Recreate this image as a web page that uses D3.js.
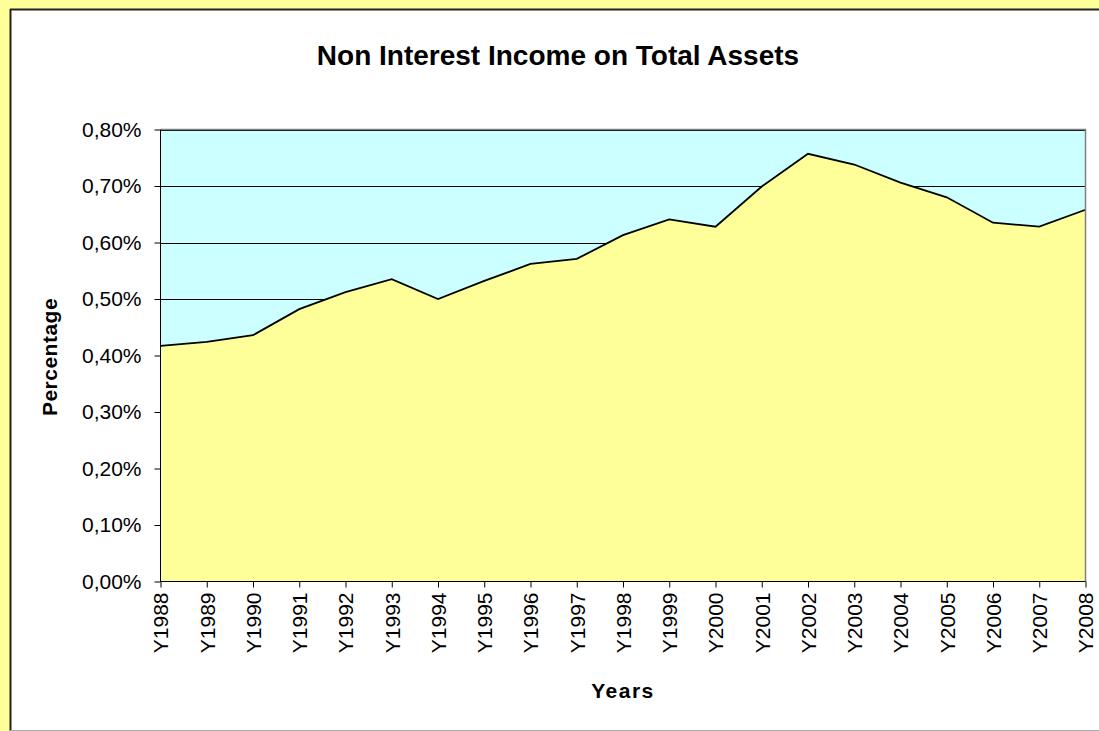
<!DOCTYPE html>
<html><head><meta charset="utf-8">
<script src="https://cdn.jsdelivr.net/npm/d3@7"></script>
<style>body{margin:0;background:#fff}svg{display:block}</style>
</head><body>
<svg id="c" width="1099" height="731"></svg>
<script>
const years = ["Y1988","Y1989","Y1990","Y1991","Y1992","Y1993","Y1994","Y1995","Y1996","Y1997","Y1998","Y1999","Y2000","Y2001","Y2002","Y2003","Y2004","Y2005","Y2006","Y2007","Y2008"];
const values = [0.417,0.424,0.436,0.482,0.512,0.535,0.500,0.532,0.562,0.571,0.613,0.641,0.628,0.699,0.757,0.738,0.706,0.680,0.635,0.628,0.658];
const yTicks = [0,0.1,0.2,0.3,0.4,0.5,0.6,0.7,0.8];
const title = "Non Interest Income on Total Assets";

const svg = d3.select("#c");
const font = "Arial, 'Liberation Sans', sans-serif";
// outer frame
svg.append("rect").attr("x",0).attr("y",0).attr("width",1099).attr("height",731).attr("fill","#FFFF99");
svg.append("rect").attr("x",10).attr("y",9).attr("width",1089).attr("height",721).attr("fill","#fff");
svg.append("line").attr("x1",10.5).attr("x2",10.5).attr("y1",9).attr("y2",731).attr("stroke","#222").attr("stroke-width",2);
svg.append("line").attr("x1",10).attr("x2",1099).attr("y1",9.5).attr("y2",9.5).attr("stroke","#222").attr("stroke-width",2);
svg.append("line").attr("x1",10).attr("x2",1099).attr("y1",730.5).attr("y2",730.5).attr("stroke","#aaa").attr("stroke-width",1);

const L=160.5, R=1085.5, T=129.5, B=581.5;
const x = d3.scalePoint().domain(years).range([L,R]);
const y = d3.scaleLinear().domain([0,0.8]).range([B,T]);

svg.append("rect").attr("x",L).attr("y",T).attr("width",R-L).attr("height",B-T).attr("fill","#CCFFFF");
// gridlines
svg.append("g").selectAll("line").data(yTicks.slice(1)).join("line")
  .attr("x1",L).attr("x2",R).attr("y1",d=>Math.round(y(d))+0.5).attr("y2",d=>Math.round(y(d))+0.5)
  .attr("stroke","#000").attr("stroke-width",1);
// area
const area = d3.area().x((d,i)=>x(years[i])).y0(B).y1(d=>y(d));
svg.append("path").datum(values).attr("d",area).attr("fill","#FFFF99");
const line = d3.line().x((d,i)=>x(years[i])).y(d=>y(d));
svg.append("path").datum(values).attr("d",line).attr("fill","none").attr("stroke","#000").attr("stroke-width",1.8).attr("stroke-linejoin","miter");
// plot border top/right
svg.append("path").attr("d",`M${L},${T}H${R}V${B}`).attr("fill","none").attr("stroke","#808080").attr("stroke-width",1.5);

// axes
const yAxis = d3.axisLeft(y).tickValues(yTicks).tickSize(6).tickPadding(13)
  .tickFormat(d=>d3.format(".2f")(d).replace(".",",")+"%");
const gy = svg.append("g").attr("transform",`translate(${L},0)`).call(yAxis);
gy.selectAll("text").attr("font-family",font).attr("font-size",21).attr("fill","#000");
gy.selectAll("line,path").attr("stroke","#000");
gy.select(".domain").attr("d",`M0,${T}V${B}`);

const xAxis = d3.axisBottom(x).tickSize(6).tickPadding(0);
const gx = svg.append("g").attr("transform",`translate(0,${B})`).call(xAxis);
gx.select(".domain").attr("d",`M${L},0H${R}`).attr("stroke","#000");
gx.selectAll("line").attr("stroke","#000");
gx.selectAll("text").attr("font-family",font).attr("font-size",21).attr("fill","#000")
  .attr("transform","rotate(-90)").attr("text-anchor","end").attr("dy","0.35em").attr("x",-11).attr("y",0);

svg.append("text").attr("x",558).attr("y",65).attr("text-anchor","middle")
  .attr("font-family",font).attr("font-weight","bold").attr("font-size",28).text(title);
svg.append("text").attr("transform","translate(57,357) rotate(-90)").attr("text-anchor","middle")
  .attr("font-family",font).attr("font-weight","bold").attr("font-size",21).attr("letter-spacing",0.5).text("Percentage");
svg.append("text").attr("x",623).attr("y",698).attr("text-anchor","middle")
  .attr("font-family",font).attr("font-weight","bold").attr("font-size",21).attr("letter-spacing",1.5).text("Years");
</script>
</body></html>
